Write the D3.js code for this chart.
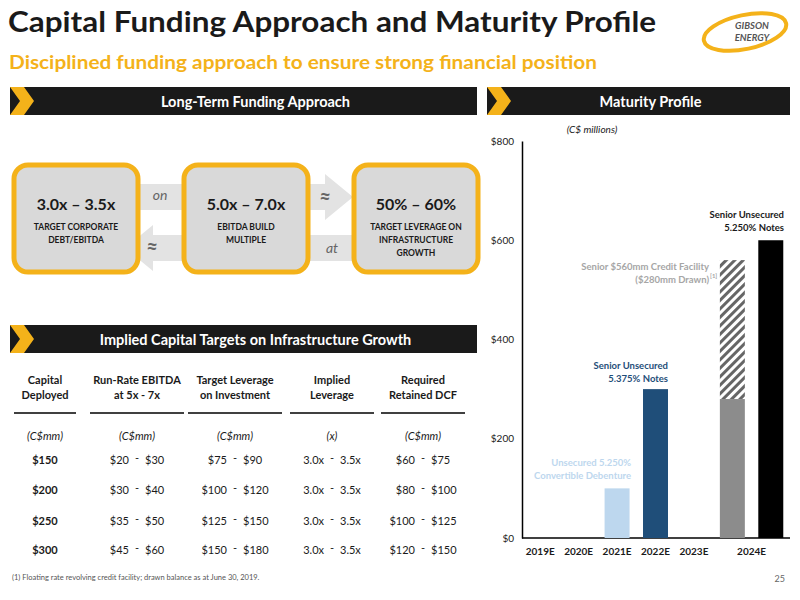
<!DOCTYPE html><html><head><meta charset="utf-8"><script src="https://cdn.jsdelivr.net/npm/d3@7"></script>
<style>body{margin:0;background:#fff}svg{font-family:Lato,"Open Sans",sans-serif}</style></head><body><svg id="c" width="800" height="600"></svg>
<script>
const slots=["2019E","2020E","2021E","2022E","2023E","2024a","2024b"];
const tickLabels=["2019E","2020E","2021E","2022E","2023E"];
const barSlots=["2021E","2022E","2024a","2024b"];
const drawn=[100,300,280,600];
const facility=[0,0,560,0];
const barColors=["#bdd7ee","#1f4e79","#8c8c8c","#000000"];
const yTicks=[0,200,400,600,800];
const tableHeads=[["Capital","Deployed"],["Run-Rate EBITDA","at 5x - 7x"],["Target Leverage","on Investment"],["Implied","Leverage"],["Required","Retained DCF"]];
const units=["(C$mm)","(C$mm)","(C$mm)","(x)","(C$mm)"];
const capital=["$150","$200","$250","$300"];
const ebitda=[["$20","$30"],["$30","$40"],["$35","$50"],["$45","$60"]];
const lev=[["$75","$90"],["$100","$120"],["$125","$150"],["$150","$180"]];
const impl=[["3.0x","3.5x"],["3.0x","3.5x"],["3.0x","3.5x"],["3.0x","3.5x"]];
const dcf=[["$60","$75"],["$80","$100"],["$100","$125"],["$120","$150"]];

const svg=d3.select("#c");
const defs=svg.append("defs");
const pat=defs.append("pattern").attr("id","h").attr("width",6).attr("height",6).attr("patternUnits","userSpaceOnUse").attr("patternTransform","rotate(45)");
pat.append("rect").attr("width",6).attr("height",6).attr("fill","#fff");
pat.append("rect").attr("width",3).attr("height",6).attr("fill","#666");

svg.append("text").attr("x",8).attr("y",32).attr("font-size",29).attr("font-weight","bold").attr("fill","#1a1a1a").attr("textLength",648).attr("lengthAdjust","spacingAndGlyphs").text("Capital Funding Approach and Maturity Profile");
svg.append("text").attr("x",9).attr("y",69).attr("font-size",18).attr("font-weight","bold").attr("fill","#f4b21a").attr("textLength",588).attr("lengthAdjust","spacingAndGlyphs").text("Disciplined funding approach to ensure strong financial position");
const lg=svg.append("g");
lg.append("ellipse").attr("cx",745).attr("cy",32).attr("rx",42).attr("ry",17).attr("fill","none").attr("stroke","#f4b21a").attr("stroke-width",4).attr("transform","rotate(-12,745,32)");
lg.append("text").attr("x",752).attr("y",29).attr("text-anchor","middle").attr("font-size",9.5).attr("font-weight","bold").attr("font-style","italic").attr("fill","#555").text("GIBSON");
lg.append("text").attr("x",752).attr("y",41).attr("text-anchor","middle").attr("font-size",9.5).attr("font-weight","bold").attr("font-style","italic").attr("fill","#555").text("ENERGY");

function header(x0,x1,y,t){svg.append("rect").attr("x",x0).attr("y",y).attr("width",x1-x0).attr("height",28).attr("fill","#1a1a1a");
 svg.append("path").attr("d",`M${x0},${y}h14l10,14l-10,14h-14l10,-14z`).attr("fill","#f4b21a");
 svg.append("text").attr("x",(x0+x1)/2+12).attr("y",y+20).attr("text-anchor","middle").attr("fill","#fff").attr("font-size",14.5).attr("font-weight","bold").text(t);}
header(10,477,87,"Long-Term Funding Approach");
header(487,790,87,"Maturity Profile");
header(10,477,325,"Implied Capital Targets on Infrastructure Growth");

svg.append("path").attr("d","M139,184h186v-10l28,23l-28,23v-10h-186z").attr("fill","#e3e3e3");
svg.append("path").attr("d","M353,235h-200v-10l-28,23l28,23v-10h200z").attr("fill","#e3e3e3");
[["on",160,200,14,"normal"],["≈",325,204,20,"bold"],["≈",152,254,20,"bold"],["at",332,253,14,"normal"]].forEach(a=>svg.append("text").attr("x",a[1]).attr("y",a[2]).attr("text-anchor","middle").attr("font-size",a[3]).attr("font-weight",a[4]).attr("font-style","italic").attr("fill","#666").text(a[0]));
const boxes=[[14,"3.0x – 3.5x",["TARGET CORPORATE","DEBT/EBITDA"]],[184,"5.0x – 7.0x",["EBITDA BUILD","MULTIPLE"]],[354,"50% – 60%",["TARGET LEVERAGE ON","INFRASTRUCTURE","GROWTH"]]];
boxes.forEach(b=>{svg.append("rect").attr("x",b[0]).attr("y",165).attr("width",124).attr("height",107).attr("rx",14).attr("fill","#d9d9d9").attr("stroke","#f4b21a").attr("stroke-width",5);
 svg.append("text").attr("x",b[0]+62).attr("y",210).attr("text-anchor","middle").attr("font-size",16).attr("font-weight","bold").attr("fill","#1a1a1a").text(b[1]);
 b[2].forEach((l,i)=>svg.append("text").attr("x",b[0]+62).attr("y",230+i*13).attr("text-anchor","middle").attr("font-size",8.5).attr("font-weight","bold").attr("fill","#1a1a1a").text(l));});

const cx=[45,137,235,332,423];
tableHeads.forEach((h,i)=>{h.forEach((l,j)=>svg.append("text").attr("x",cx[i]).attr("y",384+j*15).attr("text-anchor","middle").attr("font-size",11).attr("font-weight","bold").attr("fill","#1a1a1a").text(l));
 const w=[62,94,94,84,84][i];
 svg.append("line").attr("x1",cx[i]-w/2).attr("x2",cx[i]+w/2).attr("y1",413).attr("y2",413).attr("stroke","#000").attr("stroke-width",1.5);
 svg.append("text").attr("x",cx[i]).attr("y",440).attr("text-anchor","middle").attr("font-size",11).attr("font-style","italic").attr("fill","#1a1a1a").text(units[i]);});
const ry=[464,494,525,554];
capital.forEach((c,r)=>{svg.append("text").attr("x",cx[0]).attr("y",ry[r]).attr("text-anchor","middle").attr("font-size",11).attr("font-weight","bold").attr("fill","#1a1a1a").text(c);
 [ebitda,lev,impl,dcf].forEach((arr,k)=>{const x=cx[k+1];
  svg.append("text").attr("x",x-8).attr("y",ry[r]).attr("text-anchor","end").attr("font-size",11).attr("fill","#1a1a1a").text(arr[r][0]);
  svg.append("text").attr("x",x).attr("y",ry[r]-2).attr("text-anchor","middle").attr("font-size",11).attr("fill","#1a1a1a").text("-");
  svg.append("text").attr("x",x+8).attr("y",ry[r]).attr("text-anchor","start").attr("font-size",11).attr("fill","#1a1a1a").text(arr[r][1]);});});

const x=d3.scaleBand().domain(slots).range([521,790]).paddingInner(0.35).paddingOuter(0.175);
const y=d3.scaleLinear().domain([0,800]).range([538,141]);
const ya=svg.append("g").attr("transform","translate(522,0)").call(d3.axisLeft(y).tickValues(yTicks).tickFormat(d=>"$"+d).tickSize(0).tickPadding(8));
ya.select(".domain").attr("stroke","#000").attr("stroke-width",1.5);
ya.selectAll("text").attr("font-size",10).attr("fill","#1a1a1a").attr("font-family","Lato");
svg.append("line").attr("x1",522).attr("x2",790).attr("y1",y(0)).attr("y2",y(0)).attr("stroke","#000").attr("stroke-width",1.5);
tickLabels.concat(["2024E"]).forEach(t=>{const cxx=t==="2024E"?(x("2024a")+x("2024b")+x.bandwidth())/2:x(t)+x.bandwidth()/2;
 svg.append("text").attr("x",cxx).attr("y",555).attr("text-anchor","middle").attr("font-size",10).attr("font-weight","bold").attr("fill","#1a1a1a").text(t);});
barSlots.forEach((s,i)=>{
 if(facility[i]>0) svg.append("rect").attr("x",x(s)).attr("width",x.bandwidth()).attr("y",y(facility[i])).attr("height",y(drawn[i])-y(facility[i])).attr("fill","url(#h)");
 svg.append("rect").attr("x",x(s)).attr("width",x.bandwidth()).attr("y",y(drawn[i])).attr("height",y(0)-y(drawn[i])).attr("fill",barColors[i]);});
svg.append("text").attr("x",592).attr("y",133).attr("text-anchor","middle").attr("font-size",10).attr("font-style","italic").attr("fill","#1a1a1a").text("(C$ millions)");
function lab(lines,xx,yy,col){lines.forEach((l,i)=>svg.append("text").attr("x",xx).attr("y",yy+i*13).attr("text-anchor","end").attr("font-size",9.5).attr("font-weight","bold").attr("fill",col).text(l));}
lab(["Unsecured 5.250%","Convertible Debenture"],631,466,"#bdd7ee");
lab(["Senior Unsecured","5.375% Notes"],668,369,"#1f4e79");
lab(["Senior $560mm Credit Facility","($280mm Drawn)"],709,270,"#a6a6a6");
svg.append("text").attr("x",710).attr("y",278).attr("font-size",6).attr("font-weight","bold").attr("fill","#a6a6a6").text("[1]");
lab(["Senior Unsecured","5.250% Notes"],784,218,"#1a1a1a");
svg.append("text").attr("x",12).attr("y",580).attr("font-size",7.5).attr("fill","#555").text("(1) Floating rate revolving credit facility; drawn balance as at June 30, 2019.");
svg.append("text").attr("x",785).attr("y",582).attr("text-anchor","end").attr("font-size",9).attr("fill","#666").text("25");
</script></body></html>
